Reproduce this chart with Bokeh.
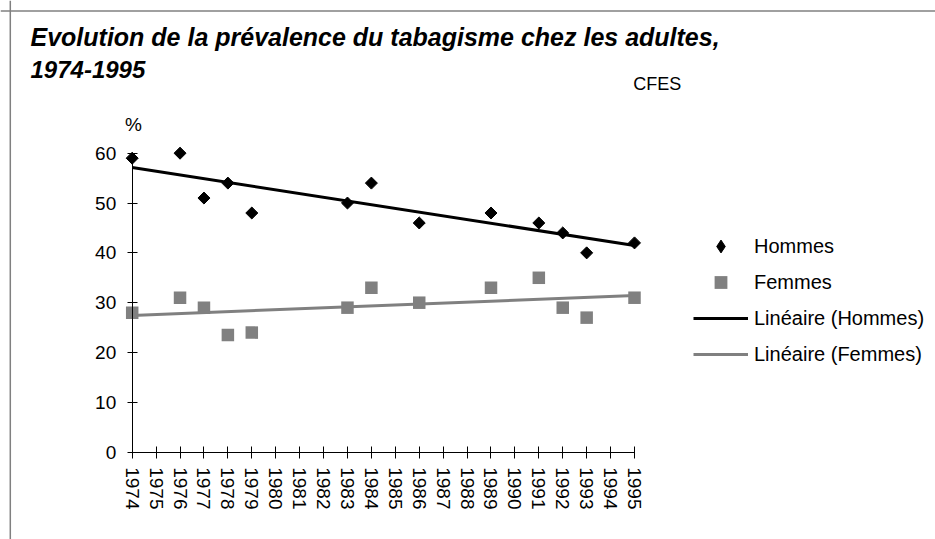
import numpy as np
from bokeh.plotting import figure
from bokeh.models import (Range1d, LinearAxis, FixedTicker, Label, Span,
                          Legend, LegendItem)
from bokeh.embed import file_html
from bokeh.resources import INLINE

# ---------------- data ----------------
years = list(range(1974, 1996))
year_labels = [str(y) for y in years]
survey_years = [1974, 1976, 1977, 1978, 1979, 1983, 1984, 1986, 1989, 1991, 1992, 1993, 1995]
hommes = [59, 60, 51, 54, 48, 50, 54, 46, 48, 46, 44, 40, 42]
femmes = [28, 31, 29, 23.5, 24, 29, 33, 30, 33, 35, 29, 27, 31]
y_ticks = [0, 10, 20, 30, 40, 50, 60]
series_names = ["Hommes", "Femmes", "Linéaire (Hommes)", "Linéaire (Femmes)"]
title_lines = ["Evolution de la prévalence du tabagisme chez les adultes,", "1974-1995"]
source_text = "CFES"
unit_text = "%"

# ---------------- layout (pixels on the canvas) ----------------
W, H = 935, 539
X_FIRST_PX, X_LAST_PX = 131.7, 634.0     # canvas x of first / last year
Y_ZERO_PX, Y_TOP_PX = 451.7, 152.7       # canvas y of 0 and 60
FONT = "Liberation Sans"

ppx_x = (X_LAST_PX - X_FIRST_PX) / (years[-1] - years[0])
ppx_y = (Y_ZERO_PX - Y_TOP_PX) / (y_ticks[-1] - y_ticks[0])
x_start = years[0] - X_FIRST_PX / ppx_x
x_end = years[-1] + (W - X_LAST_PX) / ppx_x
y_end = y_ticks[-1] + Y_TOP_PX / ppx_y
y_start = y_ticks[0] - (H - Y_ZERO_PX) / ppx_y


def dx(px):
    return x_start + px / ppx_x


def dy(py):
    return y_end - py / ppx_y


p = figure(width=W, height=H, output_backend="svg", toolbar_location=None,
           x_range=Range1d(x_start, x_end), y_range=Range1d(y_start, y_end),
           x_axis_location=None, y_axis_location=None, title=None,
           min_border=0, min_border_left=0, min_border_right=0,
           min_border_top=0, min_border_bottom=0)
p.grid.visible = False
p.outline_line_color = None
p.background_fill_color = "white"
p.border_fill_color = "white"

# axes at fixed data locations (like Excel)
xaxis = LinearAxis(fixed_location=0, bounds=(years[0], years[-1]),
                   ticker=FixedTicker(ticks=years),
                   major_label_overrides={y: l for y, l in zip(years, year_labels)},
                   major_label_orientation="vertical",
                   major_tick_in=6, major_tick_out=6,
                   minor_tick_in=0, minor_tick_out=0,
                   major_label_standoff=9,
                   major_label_text_font=FONT, major_label_text_font_size="19px",
                   major_label_text_color="black",
                   axis_line_color="black", major_tick_line_color="black")
p.add_layout(xaxis, "below")

yaxis = LinearAxis(fixed_location=years[0], bounds=(y_ticks[0], y_ticks[-1]),
                   ticker=FixedTicker(ticks=y_ticks),
                   major_tick_in=5, major_tick_out=5,
                   minor_tick_in=0, minor_tick_out=0,
                   major_label_standoff=11,
                   major_label_text_font=FONT, major_label_text_font_size="19px",
                   major_label_text_color="black",
                   axis_line_color="black", major_tick_line_color="black")
p.add_layout(yaxis, "left")

# trend lines (least squares on the data)
ch = np.polyfit(survey_years, hommes, 1)
cf = np.polyfit(survey_years, femmes, 1)
tx = [years[0], years[-1]]
lh = p.line(tx, list(np.polyval(ch, tx)), line_color="black", line_width=3)
lf = p.line(tx, list(np.polyval(cf, tx)), line_color="#808080", line_width=3)

# legend key proxy for the diamond (legend keys are drawn unrotated); hidden in the plot
rh_key = p.scatter(survey_years, hommes, marker="diamond", fill_color="black",
                   line_color="black", line_width=1, visible=False)

# points
rh = p.scatter(survey_years, hommes, marker="square", angle=np.pi / 4, size=8.5,
               fill_color="black", line_color="black", line_width=1)
rf = p.scatter(survey_years, femmes, marker="square", size=12.5,
               fill_color="#808080", line_color=None)

legend = Legend(items=[LegendItem(label=series_names[0], renderers=[rh_key]),
                       LegendItem(label=series_names[1], renderers=[rf]),
                       LegendItem(label=series_names[2], renderers=[lh]),
                       LegendItem(label=series_names[3], renderers=[lf])],
                location=(693, 169), orientation="vertical",
                glyph_width=55, glyph_height=32, label_height=20,
                label_standoff=6, spacing=4, padding=0, margin=0,
                click_policy="none",
                border_line_color=None, background_fill_alpha=0,
                label_text_font=FONT, label_text_font_size="20px",
                label_text_color="black")
p.add_layout(legend)

# chart-area border (left and top visible in the reference)
p.add_layout(Span(location=dx(9.8), dimension="height", line_color="#808080", line_width=1.5))
p.add_layout(Span(location=dy(10.5), dimension="width", line_color="#808080", line_width=1.5))

# texts
p.add_layout(Label(x=dx(30), y=dy(36.7), text=title_lines[0], text_font=FONT,
                   text_font_style="bold italic", text_font_size="25px",
                   text_baseline="alphabetic", text_align="left", text_color="black"))
p.add_layout(Label(x=dx(30), y=dy(69.3), text=title_lines[1], text_font=FONT,
                   text_font_style="bold italic", text_font_size="24px",
                   text_baseline="alphabetic", text_align="left", text_color="black"))
p.add_layout(Label(x=dx(632.7), y=dy(83.3), text=source_text, text_font=FONT,
                   text_font_size="18px", text_baseline="alphabetic",
                   text_align="left", text_color="black"))
p.add_layout(Label(x=dx(133), y=dy(124), text=unit_text, text_font=FONT,
                   text_font_size="19px", text_baseline="middle",
                   text_align="center", text_color="black"))

open("out.html", "w").write(file_html(p, INLINE))
